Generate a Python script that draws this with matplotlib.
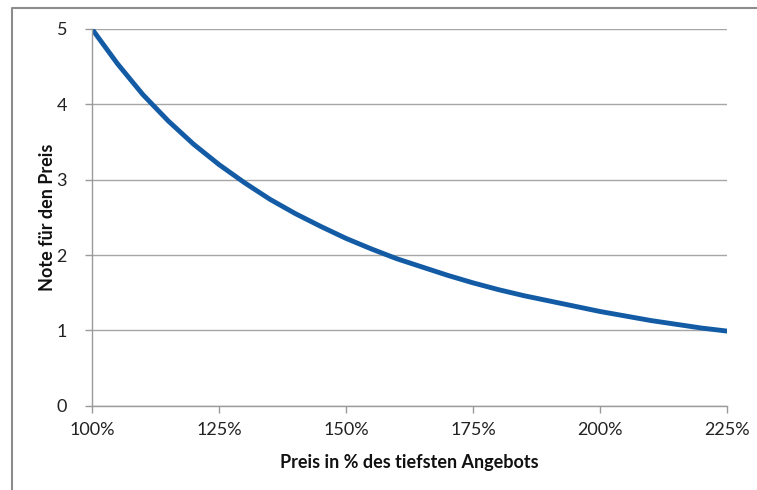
import matplotlib
matplotlib.use("Agg")
import matplotlib.pyplot as plt
from matplotlib.lines import Line2D
from matplotlib.ticker import FuncFormatter

plt.rcParams['font.family'] = ['Lato', 'DejaVu Sans']

# Price in % of the lowest offer
price_pct = [100, 105, 110, 115, 120, 125, 130, 135, 140, 145, 150, 155, 160,
             165, 170, 175, 180, 185, 190, 195, 200, 205, 210, 215, 220, 225]
# Grade for the price
note = [5.00, 4.54, 4.13, 3.78, 3.47, 3.20, 2.96, 2.74, 2.55, 2.38, 2.22, 2.08, 1.95,
        1.84, 1.73, 1.63, 1.54, 1.46, 1.39, 1.32, 1.25, 1.19, 1.13, 1.08, 1.03, 0.99]

x_ticks = [100, 125, 150, 175, 200, 225]
y_ticks = [0, 1, 2, 3, 4, 5]

W, H = 757, 490
fig = plt.figure(figsize=(W / 100, H / 100), dpi=100)
ax_h = 405.7 - 29
ax_w = 727.3 - 92
ax = fig.add_axes([92 / W, 1 - 405.7 / H, ax_w / W, ax_h / H])

ax.plot(price_pct, note, color='#135ca5', linewidth=3.5, solid_capstyle='butt')

ax.set_xlim(100, 225)
ax.set_ylim(0, 5)
ax.set_xticks(x_ticks)
ax.set_yticks(y_ticks)
ax.xaxis.set_major_formatter(FuncFormatter(lambda v, p: f"{int(round(v))}%"))
ax.grid(axis='y', color='#a6a6a6', linewidth=1.0)
ax.set_axisbelow(True)

for s in ['top', 'right']:
    ax.spines[s].set_visible(False)
for s in ['left', 'bottom']:
    ax.spines[s].set_color('#9a9a9a')
    ax.spines[s].set_linewidth(1.0)

ax.tick_params(axis='both', colors='#9a9a9a', length=5, width=1.0,
               labelcolor='#222222', labelsize=13)
ax.tick_params(axis='y', pad=13)
ax.tick_params(axis='x', pad=7)

ax.set_xlabel('Preis in % des tiefsten Angebots', fontsize=13, fontweight='bold',
              color='#111111')
ax.set_ylabel('Note für den Preis', fontsize=13, fontweight='bold',
              color='#111111')
ax.xaxis.set_label_coords(0.5, -(454 - 405.7) / ax_h)
ax.yaxis.set_label_coords((56 - 92) / ax_w, 0.5)

# outer chart-area border (left and top visible)
fig.add_artist(Line2D([12 / W, 12 / W, 1.0], [0.0, 1 - 8 / H, 1 - 8 / H],
                      transform=fig.transFigure, color='#8c8c8c', linewidth=1.5))

fig.savefig('out.png', dpi=100)
